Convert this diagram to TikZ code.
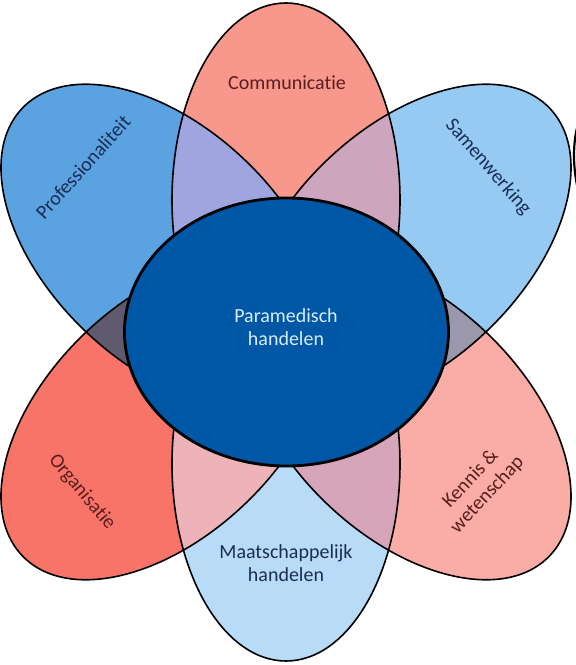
\documentclass[tikz,border=0pt]{standalone}
\usepackage{fontspec}
\setmainfont{Carlito}[Ligatures={NoCommon}]
\definecolor{cComm}{HTML}{F8978B}
\definecolor{cSam}{HTML}{97CAF3}
\definecolor{cKen}{HTML}{F9ADA6}
\definecolor{cMaat}{HTML}{B8DCF8}
\definecolor{cOrg}{HTML}{F87468}
\definecolor{cPro}{HTML}{5AA2E0}
\definecolor{cCen}{HTML}{0057A6}
\definecolor{cTP}{HTML}{A0A5E0}
\definecolor{cTS}{HTML}{CDA5BE}
\definecolor{cPO}{HTML}{5F5A6E}
\definecolor{cSK}{HTML}{9B98AC}
\definecolor{cBO}{HTML}{EEB2B9}
\definecolor{cBK}{HTML}{D7A5B9}
\definecolor{cTxtRed}{HTML}{5A1E1E}
\definecolor{cTxtBlue}{HTML}{1B2D55}
\definecolor{cCenTxt}{HTML}{D8ECFA}
\begin{document}
\begin{tikzpicture}[x=1pt,y=1pt,line join=round,
  petaledge/.style={draw=black,line width=1.6pt},
  lbl/.style={font=\fontsize{20}{23}\selectfont,inner sep=0pt,align=center}]
\useasboundingbox (0,0) rectangle (576,665);
\fill[white] (0,0) rectangle (576,665);
\def\pTop{(286,465) ellipse [x radius=114, y radius=197]}
\def\pBot{(286,201) ellipse [x radius=114, y radius=197]}
\def\pSam{[rotate around={44:(407,419.5)}] (407,419.5) ellipse [x radius=198, y radius=117]}
\def\pKen{[rotate around={-44:(407,246.5)}] (407,246.5) ellipse [x radius=198, y radius=117]}
\def\pPro{[rotate around={-44:(165,419.5)}] (165,419.5) ellipse [x radius=198, y radius=117]}
\def\pOrg{[rotate around={44:(165,246.5)}] (165,246.5) ellipse [x radius=198, y radius=117]}
% petal fills
\fill[cComm] \pTop;
\fill[cMaat] \pBot;
\fill[cSam] \pSam;
\fill[cKen] \pKen;
\fill[cPro] \pPro;
\fill[cOrg] \pOrg;
% overlaps
\begin{scope}\clip \pTop; \fill[cTP] \pPro; \fill[cTS] \pSam; \end{scope}
\begin{scope}\clip \pBot; \fill[cBO] \pOrg; \fill[cBK] \pKen; \end{scope}
\begin{scope}\clip \pPro; \fill[cPO] \pOrg; \end{scope}
\begin{scope}\clip \pSam; \fill[cSK] \pKen; \end{scope}
% outlines
\path[petaledge] \pTop;
\path[petaledge] \pBot;
\path[petaledge] \pSam;
\path[petaledge] \pKen;
\path[petaledge] \pPro;
\path[petaledge] \pOrg;
% centre
\filldraw[fill=cCen,draw=black,line width=2.8pt] (286.5,333) ellipse [x radius=162, y radius=134];
% cut-off shape at right edge
\draw[line width=2.2pt] (577,537) .. controls (573,520) and (573,500) .. (577,480);
% labels
\node[lbl,text=cTxtRed] (comm) at (287,582) {Communicatie};
\node[lbl,text=cTxtBlue,rotate=-49] (sam) at (488,498) {Samenwerking};
\node[lbl,text=cTxtBlue,rotate=48] (prof) at (83,498) {Professionaliteit};
\node[lbl,text=cTxtRed,rotate=-50] (org) at (82,173) {Organisatie};
\node[lbl,text=cTxtRed,rotate=47] (ken) at (479,178) {Kennis \&\\wetenschap};
\node[lbl,text=cTxtBlue] (maat) at (286,102) {Maatschappelijk\\handelen};
\node[lbl,text=cCenTxt] (par) at (286,338) {Paramedisch\\handelen};
\end{tikzpicture}
\end{document}
